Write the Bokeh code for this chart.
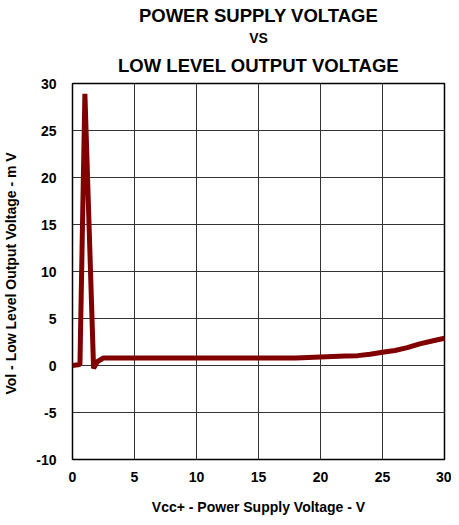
from bokeh.plotting import figure
from bokeh.models import Title, FixedTicker, CustomJSTickFormatter
from bokeh.embed import file_html
from bokeh.resources import INLINE

vcc = [0, 0.6, 1.0, 1.7, 2.0, 2.5, 5, 10, 15, 18, 20, 22, 23, 24, 25, 26, 27, 28, 29, 30]
vol = [0, 0.1, 28.9, -0.3, 0.4, 0.8, 0.8, 0.8, 0.8, 0.8, 0.9, 1.0, 1.05, 1.2, 1.4, 1.6, 1.9, 2.3, 2.6, 2.9]

x_ticks = [0, 5, 10, 15, 20, 25, 30]
y_ticks = [-10, -5, 0, 5, 10, 15, 20, 25, 30]

FONT = "Liberation Sans"

p = figure(frame_width=372, frame_height=376, x_range=(0, 30), y_range=(-10, 30),
           output_backend="svg", toolbar_location=None,
           min_border_left=64, min_border_right=7, min_border_top=79, min_border_bottom=52)

for txt, size, so in [("LOW LEVEL OUTPUT VOLTAGE", "18.5px", 15), ("VS", "14px", 0), ("POWER SUPPLY VOLTAGE", "18.5px", 4)]:
    t = Title(text=txt, align="center", text_font=FONT, text_font_size=size,
              text_font_style="bold", text_color="black", standoff=so)
    p.add_layout(t, "above")

p.line(vcc, vol, line_color="#800000", line_width=5)

fmt = CustomJSTickFormatter(code="return tick.toString();")
for ax in (p.xaxis, p.yaxis):
    ax.formatter = fmt
    ax.major_label_text_font = FONT
    ax.major_label_text_font_style = "bold"
    ax.major_label_text_font_size = "14px"
    ax.major_label_text_color = "black"
    ax.axis_label_text_font = FONT
    ax.axis_label_text_font_style = "bold"
    ax.axis_label_text_font_size = "14px"
    ax.axis_label_text_color = "black"
    ax.major_tick_line_color = None
    ax.minor_tick_line_color = None
    ax.axis_line_color = None

p.xaxis.ticker = FixedTicker(ticks=x_ticks)
p.yaxis.ticker = FixedTicker(ticks=y_ticks)
p.xaxis.axis_label = "Vcc+ - Power Supply Voltage - V"
p.yaxis.axis_label = "Vol - Low Level Output  Voltage - m V"
p.xaxis.major_label_standoff = 6
p.yaxis.major_label_standoff = 10
p.xaxis.axis_label_standoff = 14
p.yaxis.axis_label_standoff = 14

p.xgrid.ticker = FixedTicker(ticks=x_ticks)
p.ygrid.ticker = FixedTicker(ticks=y_ticks)
p.grid.grid_line_color = "#333333"
p.grid.grid_line_width = 1
p.outline_line_color = "black"
p.outline_line_width = 1.5
p.background_fill_color = "white"
p.border_fill_color = "white"

open("out.html", "w").write(file_html(p, INLINE))
